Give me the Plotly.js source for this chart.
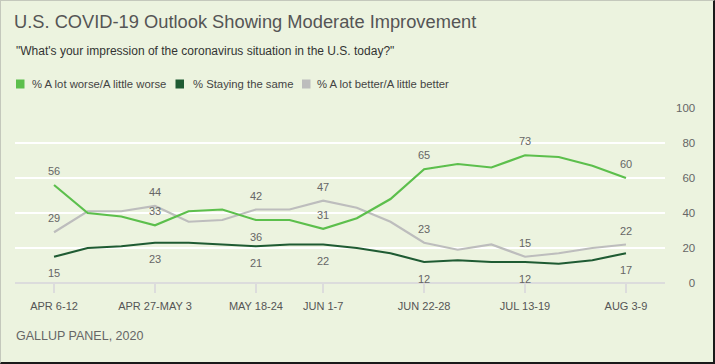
<!DOCTYPE html>
<html>
<head>
<meta charset="utf-8">
<script src="https://cdn.plot.ly/plotly-3.0.1.min.js"></script>
<style>
  html, body { margin: 0; padding: 0; background: #ECF3DF; }
  #wrap { position: relative; width: 715px; height: 364px; }
  #chart { width: 715px; height: 364px; }
  #frame { position: absolute; left: 0; top: 0; width: 715px; height: 364px; box-sizing: border-box;
           border-top: 1px solid #c4c8bc; border-left: 1px solid #c4c8bc;
           border-right: 2px solid #1a1a1a; border-bottom: 2px solid #1a1a1a; pointer-events: none; }
</style>
</head>
<body>
<div id="wrap"><div id="chart"></div><div id="frame"></div></div>
<script>
// ---- data ----
const weeks = ["APR 6-12","APR 13-19","APR 20-26","APR 27-MAY 3","MAY 4-10","MAY 11-17","MAY 18-24","MAY 25-31",
               "JUN 1-7","JUN 8-14","JUN 15-21","JUN 22-28","JUN 29-JUL 5","JUL 6-12","JUL 13-19","JUL 20-26",
               "JUL 27-AUG 2","AUG 3-9"];
const worse  = [56,40,38,33,41,42,36,36,31,37,48,65,68,66,73,72,67,60];
const same   = [15,20,21,23,23,22,21,22,22,20,17,12,13,12,12,11,13,17];
const better = [29,41,41,44,35,36,42,42,47,43,35,23,19,22,15,17,20,22];
const seriesNames = ["% A lot worse/A little worse", "% Staying the same", "% A lot better/A little better"];
const tickWeeks = ["APR 6-12","APR 27-MAY 3","MAY 18-24","JUN 1-7","JUN 22-28","JUL 13-19","AUG 3-9"];
const yTicks = [0,20,40,60,80,100];
const titleText = "U.S. COVID-19 Outlook Showing Moderate Improvement";
const subtitleText = "\"What's your impression of the coronavirus situation in the U.S. today?\"";
const footerText = "GALLUP PANEL, 2020";

// ---- styling / layout ----
const FONT = '"Liberation Sans", Arial, sans-serif';
const colors = ["#5CBF4C", "#1F5B33", "#BDBDBD"];
const seriesData = [worse, same, better];
const W = 715, H = 364, L = 15, R = 665, T = 108, B = 283;
const px = x => (x - L) / (R - L);
const py = y => (B - y) / (B - T);

// label placement: +1 above, -1 below
const placement = [
  w => (w === "MAY 18-24" ? -1 : 1),
  w => -1,
  w => 1
];

const drawOrder = [2, 0, 1];
const traces = drawOrder.map(s => ({
  type: "scatter", mode: "lines", name: seriesNames[s],
  x: weeks, y: seriesData[s],
  line: { color: colors[s], width: 2.2 },
  hoverinfo: "skip", showlegend: false
}));

const annotations = [];
seriesData.forEach((vals, s) => {
  tickWeeks.forEach(w => {
    const i = weeks.indexOf(w);
    const dir = placement[s](w);
    annotations.push({
      x: w, y: vals[i], xref: "x", yref: "y", text: String(vals[i]), showarrow: false,
      yshift: dir > 0 ? 14 : -16.5, font: { family: FONT, size: 11, color: "#666" }
    });
  });
});

// subtitle, footer
annotations.push({ xref: "paper", yref: "paper", x: px(14), y: py(50.5), xanchor: "left", yanchor: "middle",
  text: subtitleText, showarrow: false, font: { family: FONT, size: 12, color: "#333" } });
annotations.push({ xref: "paper", yref: "paper", x: px(14), y: py(336), xanchor: "left", yanchor: "middle",
  text: footerText, showarrow: false, font: { family: FONT, size: 12.5, color: "#666" } });

// custom legend
const legendSq = [16, 175.5, 302];
const legendTx = [29.5, 191, 315];
const shapes = [];
seriesNames.forEach((n, s) => {
  shapes.push({ type: "rect", xref: "paper", yref: "paper", x0: px(legendSq[s]), x1: px(legendSq[s] + 8.5),
    y0: py(88.5), y1: py(79.5), fillcolor: colors[s], line: { width: 0 } });
  annotations.push({ xref: "paper", yref: "paper", x: px(legendTx[s]), y: py(84), xanchor: "left", yanchor: "middle",
    text: n, showarrow: false, font: { family: FONT, size: 11.3, color: "#444" } });
});

const pad = v => "\u2007".repeat(3 - String(v).length) + v;

const layout = {
  width: W, height: H,
  margin: { l: L, r: W - R, t: T, b: H - B, pad: 0 },
  paper_bgcolor: "#ECF3DF", plot_bgcolor: "#ECF3DF",
  font: { family: FONT, color: "#555" },
  title: { text: titleText, x: 14 / W, xanchor: "left", xref: "container", y: 1 - 21.9 / H, yref: "container",
           yanchor: "middle", font: { family: FONT, size: 18.3, color: "#555" } },
  showlegend: false,
  xaxis: {
    type: "category", range: [-1.16, 18.16], tickmode: "array", tickvals: tickWeeks, ticktext: tickWeeks,
    ticks: "outside", ticklen: 9, tickwidth: 2, tickcolor: "#dcdcdc", showgrid: false, showline: false,
    zeroline: false, ticklabelstandoff: 4, tickfont: { family: FONT, size: 11, color: "#555" }, fixedrange: true
  },
  yaxis: {
    side: "right", range: [0, 100], tickmode: "array", tickvals: yTicks, ticktext: yTicks.map(pad),
    showgrid: true, gridcolor: "#ffffff", gridwidth: 2, zeroline: true, zerolinecolor: "#dcdcdc", zerolinewidth: 2,
    ticks: "", ticklabelstandoff: 10, showline: false, tickfont: { family: FONT, size: 11.5, color: "#666" },
    fixedrange: true
  },
  annotations: annotations,
  shapes: shapes
};

Plotly.newPlot("chart", traces, layout, { displayModeBar: false, staticPlot: true });
</script>
</body>
</html>
